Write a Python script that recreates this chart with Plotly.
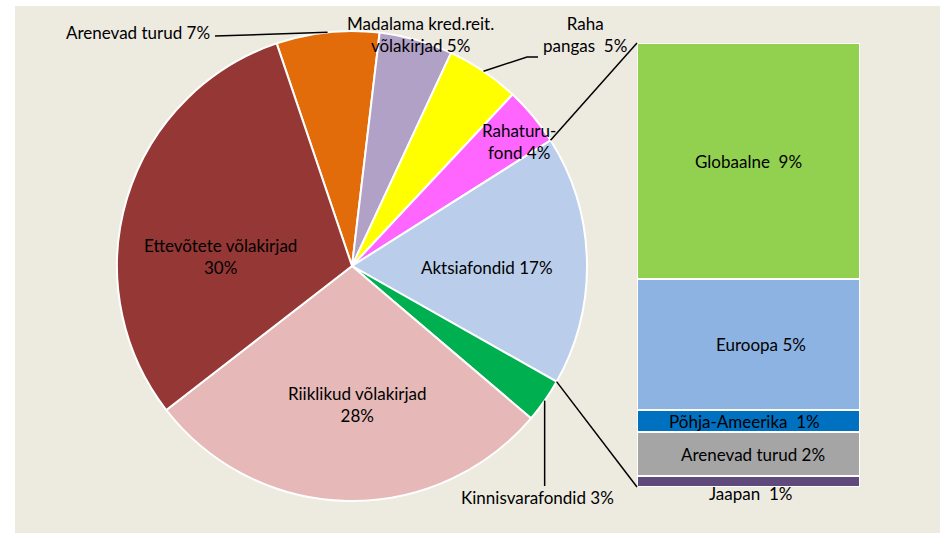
import math
import plotly.graph_objects as go

# ---------------- data ----------------
pie_labels = ["Arenevad turud", "Madalama kred.reit. võlakirjad", "Raha pangas", "Rahaturufond",
              "Aktsiafondid", "Kinnisvarafondid", "Riiklikud võlakirjad", "Ettevõtete võlakirjad"]
pie_values = [7, 5, 5, 4, 17, 3, 28, 30]
pie_colors = ["#E36C0A", "#B2A1C7", "#FFFF00", "#FF66FF", "#BACDEB", "#00B050", "#E6B9B8", "#953735"]
pie_text = ["Arenevad turud 7%", "Madalama kred.reit.<br>võlakirjad 5%", "Raha<br>pangas  5%",
            "Rahaturu-<br>fond 4%", "Aktsiafondid 17%", "Kinnisvarafondid 3%",
            "Riiklikud võlakirjad<br>28%", "Ettevõtete võlakirjad<br>30%"]

# breakdown of Aktsiafondid (bottom -> top)
bar_labels = ["Jaapan", "Arenevad turud", "Põhja-Ameerika", "Euroopa", "Globaalne"]
bar_values = [0.42, 1.65, 0.84, 4.98, 8.96]
bar_colors = ["#604A7B", "#A5A5A5", "#0070C0", "#8DB3E2", "#92D050"]
bar_text = ["Jaapan  1%", "Arenevad turud 2%", "Põhja-Ameerika  1%", "Euroopa 5%", "Globaalne  9%"]
bar_text_xshift = [2, 4, -4, 12, 0]

# ---------------- layout geometry ----------------
W, H = 940, 533
CX, CY, R = 352, 266, 235          # pie centre / radius in px
ROT = -18.7                         # first slice start angle (clockwise from 12 o'clock)
BX0, BX1, BY0, BY1 = 637, 860, 43, 487   # bar box in px
FONT = dict(family="Lato, Open Sans, sans-serif", size=17, color="#000000")

def px(x):
    return x / W

def py(y):
    return 1 - y / H

fig = go.Figure()
fig.add_trace(go.Pie(
    labels=pie_labels, values=pie_values, sort=False, direction="clockwise",
    rotation=ROT, textinfo="none", hoverinfo="label+percent",
    marker=dict(colors=pie_colors, line=dict(color="white", width=2)),
    domain=dict(x=[px(CX - R), px(CX + R)], y=[py(CY + R), py(CY - R)]),
    showlegend=False,
))

for lab, v, c in zip(bar_labels, bar_values, bar_colors):
    fig.add_trace(go.Bar(x=[0], y=[v], name=lab, marker=dict(color=c, line=dict(color="white", width=2)),
                         width=1, showlegend=False, xaxis="x", yaxis="y"))

total_bar = sum(bar_values)
total_pie = sum(pie_values)

def pie_point(angle_deg, rad=R):
    a = math.radians(angle_deg)
    return CX + rad * math.sin(a), CY - rad * math.cos(a)

# slice angles
cum = 0
angles = []
for v in pie_values:
    a0 = ROT + 360 * cum / total_pie
    cum += v
    a1 = ROT + 360 * cum / total_pie
    angles.append((a0, a1))

shapes = []
# white strips (outside beige chart area)
shapes.append(dict(type="rect", xref="paper", yref="paper", x0=0, x1=px(15), y0=0, y1=1,
                   fillcolor="white", line=dict(width=0)))
shapes.append(dict(type="rect", xref="paper", yref="paper", x0=0, x1=1, y0=py(6), y1=1,
                   fillcolor="white", line=dict(width=0)))

# connectors from Aktsiafondid slice to bar
ak = pie_labels.index("Aktsiafondid")
p_top = pie_point(angles[ak][0])
p_bot = pie_point(angles[ak][1])
for p, by in ((p_top, BY0), (p_bot, BY1)):
    shapes.append(dict(type="line", xref="paper", yref="paper", x0=px(p[0]), y0=py(p[1]),
                       x1=px(BX0), y1=py(by), line=dict(color="black", width=1.5)))

def mid(i):
    return (angles[i][0] + angles[i][1]) / 2

annotations = []

def ann(x, y, text, **kw):
    d = dict(x=px(x), y=py(y), xref="paper", yref="paper", text=text, showarrow=False, font=FONT,
             xanchor="center", yanchor="middle")
    d.update(kw)
    annotations.append(d)

# leader line: Arenevad turud
m = pie_point(mid(0))
shapes.append(dict(type="path", xref="paper", yref="paper",
                   path=f"M {px(m[0])},{py(m[1])} L {px(215)},{py(36)}", line=dict(color="black", width=1.5)))
ann(212, 32, pie_text[0], xanchor="right")
# Madalama
ann(420, 34, pie_text[1])
# Raha pangas leader
m = pie_point(mid(2))
shapes.append(dict(type="path", xref="paper", yref="paper",
                   path=f"M {px(m[0])},{py(m[1])} L {px(527)},{py(57)} L {px(538)},{py(57)}",
                   line=dict(color="black", width=1.5)))
ann(585, 35, pie_text[2])
# Rahaturufond
ann(519, 141, pie_text[3])
# Aktsiafondid
ann(487, 267, pie_text[4])
# Kinnisvarafondid leader
m = pie_point(mid(5))
shapes.append(dict(type="line", xref="paper", yref="paper", x0=px(m[0]), y0=py(m[1]),
                   x1=px(m[0]), y1=py(486), line=dict(color="black", width=1.5)))
ann(537, 497, pie_text[5])
# Riiklikud
ann(357, 404, pie_text[6])
# Ettevõtete
ann(220, 256, pie_text[7])

# bar labels
cum = 0
for lab, v, t, xs in zip(bar_labels, bar_values, bar_text, bar_text_xshift):
    if lab == "Jaapan":
        annotations.append(dict(x=0, y=0, xref="x", yref="y", text=t, showarrow=False, font=FONT,
                                yanchor="middle", yshift=-6, xshift=xs))
    else:
        annotations.append(dict(x=0, y=cum + v / 2, xref="x", yref="y", text=t, showarrow=False, font=FONT,
                                yanchor="middle", xshift=xs))
    cum += v

fig.update_layout(
    width=W, height=H, margin=dict(l=0, r=0, t=0, b=0),
    paper_bgcolor="#EDEAE0", plot_bgcolor="rgba(0,0,0,0)",
    barmode="stack", bargap=0,
    xaxis=dict(domain=[px(BX0), px(BX1)], range=[-0.5, 0.5], visible=False, fixedrange=True),
    yaxis=dict(domain=[py(BY1), py(BY0)], range=[0, total_bar], visible=False, fixedrange=True),
    shapes=shapes, annotations=annotations, font=FONT,
)

fig.write_html("out.html", config={"displayModeBar": False},
               post_script="document.body.style.margin='0';document.body.style.overflow='hidden';")
